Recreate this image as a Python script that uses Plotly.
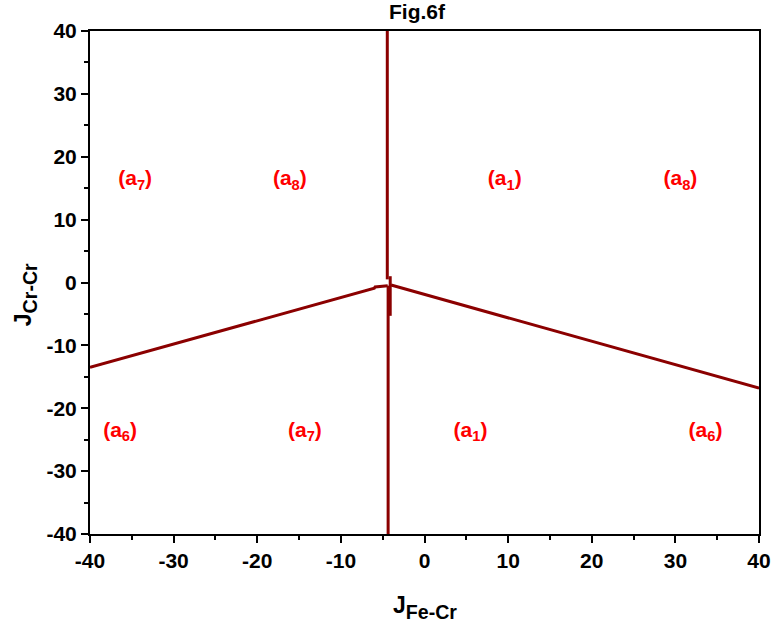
import plotly.graph_objects as go

# Phase boundary lines
left_x = [-40, -6.0, -5.9, -4.4]
left_y = [-13.5, -0.9, -0.7, -0.5]
right_x = [-4.0, 40]
right_y = [-0.4, -16.8]
vtop_x = [-4.45, -4.45]
vtop_y = [40, 0.5]
vmid_x = [-4.1, -4.1]
vmid_y = [1.0, -5.3]
vbot_x = [-4.35, -4.35]
vbot_y = [-0.5, -40]

# Region labels
lab_x = [-34.6, -16.1, 9.6, 30.6, -36.4, -14.3, 5.5, 33.6]
lab_y = [16.3, 16.3, 16.3, 16.3, -23.7, -23.7, -23.7, -23.7]
lab_t = ["<b>(a<sub>7</sub>)</b>", "<b>(a<sub>8</sub>)</b>", "<b>(a<sub>1</sub>)</b>", "<b>(a<sub>8</sub>)</b>",
         "<b>(a<sub>6</sub>)</b>", "<b>(a<sub>7</sub>)</b>", "<b>(a<sub>1</sub>)</b>", "<b>(a<sub>6</sub>)</b>"]

xticks = [-40, -30, -20, -10, 0, 10, 20, 30, 40]
yticks = [-40, -30, -20, -10, 0, 10, 20, 30, 40]

title_text = "<b>Fig.6f</b>"
xtitle = "<b><span style='font-size:23px'>J</span><sub>Fe-Cr</sub></b>"
ytitle = "<b><span style='font-size:23px'>J</span><sub>Cr-Cr</sub></b>"

col = "#8B0000"
font_fam = "Liberation Sans, Arial, sans-serif"
fig = go.Figure()
for xs, ys in [(left_x, left_y), (right_x, right_y), (vtop_x, vtop_y), (vmid_x, vmid_y), (vbot_x, vbot_y)]:
    fig.add_trace(go.Scatter(x=xs, y=ys, mode="lines", line=dict(color=col, width=3),
                             showlegend=False, hoverinfo="skip"))

fig.add_trace(go.Scatter(x=lab_x, y=lab_y, mode="text", text=lab_t,
                         textfont=dict(color="#FF0000", size=21, family=font_fam),
                         showlegend=False, hoverinfo="skip"))

fig.add_annotation(text=title_text, xref="paper", yref="paper", x=0.490, y=1.038,
                   xanchor="center", yanchor="middle", showarrow=False,
                   font=dict(size=21, family=font_fam, color="black"))
fig.add_annotation(text=xtitle, xref="paper", yref="paper", x=0.5, y=-0.147,
                   xanchor="center", yanchor="middle", showarrow=False,
                   font=dict(size=28, family=font_fam, color="black"))
fig.add_annotation(text=ytitle, xref="paper", yref="paper", x=-0.097, y=0.475,
                   xanchor="center", yanchor="middle", showarrow=False, textangle=-90,
                   font=dict(size=28, family=font_fam, color="black"))

fig.update_layout(
    width=775, height=630,
    margin=dict(l=90, r=16, t=31, b=96, autoexpand=False),
    plot_bgcolor="white", paper_bgcolor="white",
    font=dict(family=font_fam, color="black"),
    xaxis=dict(range=[-40, 40], tickmode="array", tickvals=xticks,
               ticktext=[f"<b>{v}</b>" for v in xticks],
               ticks="outside", ticklen=7, tickwidth=2, tickcolor="black",
               minor=dict(dtick=5, ticks="outside", ticklen=4, tickwidth=1.5, tickcolor="black"),
               showline=True, linecolor="black", linewidth=2, mirror=True,
               showgrid=False, zeroline=False, automargin=False,
               tickfont=dict(size=21, family=font_fam)),
    yaxis=dict(range=[-40, 40], tickmode="array", tickvals=yticks,
               ticktext=[f"<b>{v}</b>" for v in yticks],
               ticks="outside", ticklen=7, tickwidth=2, tickcolor="black",
               minor=dict(dtick=5, ticks="outside", ticklen=4, tickwidth=1.5, tickcolor="black"),
               showline=True, linecolor="black", linewidth=2, mirror=True,
               showgrid=False, zeroline=False, automargin=False,
               tickfont=dict(size=21, family=font_fam)),
)

fig.write_html("out.html", config={"displayModeBar": False},
               post_script="document.body.style.margin='0';")
